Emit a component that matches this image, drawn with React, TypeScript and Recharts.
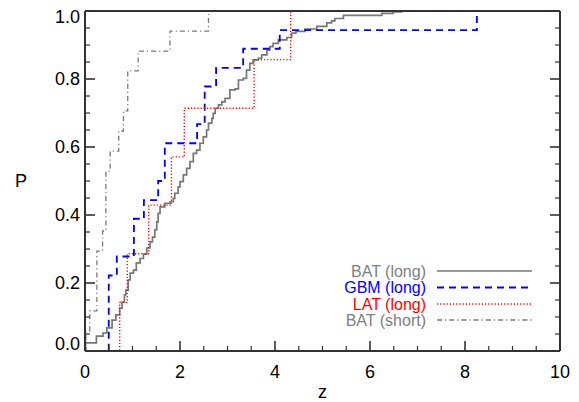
import React from 'react';
import { LineChart, Line, XAxis, YAxis, Legend } from 'recharts';

// Cumulative distributions: redshift z at each step, cumulative fraction P after it.
const batLongZ = [0, 0.01, 0.24, 0.38, 0.46, 0.57, 0.65, 0.73, 0.78, 0.83, 0.86, 0.91, 0.95, 1.02, 1.08, 1.16, 1.23, 1.30, 1.37, 1.42, 1.47, 1.51, 1.54, 1.58, 1.68, 1.79, 1.86, 1.89, 1.96, 2.00, 2.07, 2.14, 2.21, 2.28, 2.35, 2.42, 2.49, 2.56, 2.60, 2.67, 2.70, 2.74, 2.81, 2.88, 2.95, 3.05, 3.16, 3.23, 3.33, 3.40, 3.47, 3.54, 3.65, 3.72, 3.83, 3.89, 3.96, 4.07, 4.25, 4.35, 4.44, 4.63, 4.88, 5.09, 5.19, 5.26, 5.44, 6.25, 6.49, 6.67];
const batLongP = [0, 0.024, 0.044, 0.053, 0.068, 0.091, 0.106, 0.126, 0.144, 0.165, 0.179, 0.209, 0.229, 0.238, 0.259, 0.272, 0.285, 0.303, 0.321, 0.335, 0.356, 0.38, 0.405, 0.424, 0.434, 0.439, 0.449, 0.464, 0.483, 0.498, 0.518, 0.537, 0.557, 0.581, 0.591, 0.611, 0.63, 0.65, 0.67, 0.684, 0.699, 0.714, 0.724, 0.733, 0.743, 0.768, 0.771, 0.797, 0.802, 0.826, 0.846, 0.856, 0.861, 0.871, 0.885, 0.895, 0.905, 0.915, 0.922, 0.935, 0.94, 0.947, 0.955, 0.965, 0.971, 0.978, 0.987, 0.993, 0.997, 1.0];

const gbmZ = [0, 0.50, 0.67, 1.03, 1.24, 1.54, 1.68, 2.36, 2.52, 2.76, 3.33, 4.10, 8.25];
const gbmP = [0, 0.222, 0.278, 0.389, 0.444, 0.5, 0.611, 0.667, 0.778, 0.833, 0.889, 0.944, 1.0];

const latZ = [0, 0.73, 0.89, 1.34, 1.82, 2.09, 3.56, 4.33];
const latP = [0, 0.143, 0.286, 0.429, 0.571, 0.714, 0.857, 1.0];

const batShortZ = [0, 0.02, 0.10, 0.25, 0.37, 0.44, 0.53, 0.71, 0.81, 0.90, 1.12, 1.79, 2.60];
const batShortP = [0, 0.059, 0.118, 0.294, 0.353, 0.529, 0.588, 0.647, 0.706, 0.824, 0.882, 0.941, 1.0];

// tick values: every 0.5 in z (labels every 2), every 0.05 in P (labels every 0.2)
const xTicks = [0, 0.5, 1, 1.5, 2, 2.5, 3, 3.5, 4, 4.5, 5, 5.5, 6, 6.5, 7, 7.5, 8, 8.5, 9, 9.5, 10];
const xLabelled = [0, 2, 4, 6, 8, 10];
const yTicks = [0, 0.05, 0.1, 0.15, 0.2, 0.25, 0.3, 0.35, 0.4, 0.45, 0.5, 0.55, 0.6, 0.65, 0.7, 0.75, 0.8, 0.85, 0.9, 0.95, 1.0];
const yLabelled = [0, 0.2, 0.4, 0.6, 0.8, 1.0];

const seriesNames = ['BAT (long)', 'GBM (long)', 'LAT (long)', 'BAT (short)'];

const toPts = (zs: number[], ps: number[]) => zs.map((z, i) => ({ z, p: ps[i] }));

const GRAY = '#808080';
const BLUE = '#0000ff';
const RED = '#ff0000';
const AXIS = '#333333';
const FONT = '"Liberation Sans", Arial, Helvetica, sans-serif';
const MAJOR = 10;
const MINOR = 5;

const isIn = (list: number[], v: number) => list.some((t) => Math.abs(t - v) < 1e-6);

const styles = [
  { color: '#777777', dash: undefined as string | undefined, width: 1.7, text: GRAY },
  { color: BLUE, dash: '7 5', width: 1.8, text: BLUE },
  { color: RED, dash: '1.2 2', width: 1.4, text: RED },
  { color: '#7a7a7a', dash: '5 3 1.2 3', width: 1.3, text: GRAY },
];

const BottomTick = (props: any) => {
  const { x, y, payload } = props;
  const v = payload.value;
  const major = isIn(xLabelled, v);
  return (
    <g>
      <line x1={x} x2={x} y1={y} y2={y - (major ? MAJOR : MINOR)} stroke={AXIS} strokeWidth={major ? 1.6 : 1.2} />
      {major && (
        <text x={x} y={y + 27} textAnchor="middle" fontSize={18} fontFamily={FONT} fill="#000">
          {String(v)}
        </text>
      )}
    </g>
  );
};

const TopTick = (props: any) => {
  const { x, y, payload } = props;
  const major = isIn(xLabelled, payload.value);
  return <line x1={x} x2={x} y1={y} y2={y + (major ? MAJOR : MINOR)} stroke={AXIS} strokeWidth={major ? 1.6 : 1.2} />;
};

const LeftTick = (props: any) => {
  const { x, y, payload } = props;
  const v = payload.value;
  const major = isIn(yLabelled, v);
  const shift = v >= 0.999 ? 6 : v <= 0.001 ? -7 : 0;
  return (
    <g>
      <line x1={x} x2={x + (major ? MAJOR : MINOR)} y1={y} y2={y} stroke={AXIS} strokeWidth={major ? 1.6 : 1.2} />
      {major && (
        <text x={x - 5} y={y + shift} dy="0.36em" textAnchor="end" fontSize={18} fontFamily={FONT} fill="#000">
          {v.toFixed(1)}
        </text>
      )}
    </g>
  );
};

const RightTick = (props: any) => {
  const { x, y, payload } = props;
  const major = isIn(yLabelled, payload.value);
  return <line x1={x} x2={x - (major ? MAJOR : MINOR)} y1={y} y2={y} stroke={AXIS} strokeWidth={major ? 1.6 : 1.2} />;
};

const LegendBox = () => {
  const rows = [13, 29.5, 46, 62];
  return (
    <svg width={220} height={74} style={{ overflow: 'visible' }}>
      {seriesNames.map((n, i) => (
        <g key={n}>
          <text x={96} y={rows[i]} dy="0.36em" textAnchor="end" fontSize={16} fontFamily={FONT} fill={styles[i].text}>
            {n}
          </text>
          <line
            x1={107}
            x2={202}
            y1={rows[i]}
            y2={rows[i]}
            stroke={styles[i].color}
            strokeWidth={styles[i].width}
            strokeDasharray={styles[i].dash}
          />
        </g>
      ))}
    </svg>
  );
};

export default function App() {
  const series = [toPts(batLongZ, batLongP), toPts(gbmZ, gbmP), toPts(latZ, latP), toPts(batShortZ, batShortP)];
  return (
    <div style={{ position: 'absolute', left: 0, top: 0, width: 579, height: 402, background: '#fff' }}>
      <LineChart width={579} height={402} margin={{ top: 11, right: 19, bottom: 11, left: 25 }} style={{ fontFamily: FONT }}>
        <XAxis
          xAxisId="x"
          type="number"
          dataKey="z"
          domain={[0, 10]}
          ticks={xTicks}
          interval={0}
          allowDataOverflow
          height={40}
          tickSize={0}
          tickMargin={0}
          tickLine={false}
          axisLine={{ stroke: AXIS, strokeWidth: 2 }}
          tick={<BottomTick />}
          label={{ value: 'z', position: 'insideBottom', offset: -7, fill: '#000', fontSize: 18 }}
        />
        <XAxis
          xAxisId="xt"
          orientation="top"
          type="number"
          domain={[0, 10]}
          ticks={xTicks}
          interval={0}
          allowDataOverflow
          mirror
          tickSize={0}
          tickMargin={0}
          tickLine={false}
          axisLine={{ stroke: AXIS, strokeWidth: 2 }}
          tick={<TopTick />}
        />
        <YAxis
          yAxisId="y"
          type="number"
          domain={[0, 1]}
          ticks={yTicks}
          interval={0}
          allowDataOverflow
          width={60}
          tickSize={0}
          tickMargin={0}
          tickLine={false}
          axisLine={{ stroke: AXIS, strokeWidth: 2 }}
          tick={<LeftTick />}
          label={{ value: 'P', position: 'insideLeft', offset: -10, fill: '#000', fontSize: 18 }}
        />
        <YAxis
          yAxisId="yr"
          orientation="right"
          type="number"
          domain={[0, 1]}
          ticks={yTicks}
          interval={0}
          allowDataOverflow
          mirror
          tickSize={0}
          tickMargin={0}
          tickLine={false}
          axisLine={{ stroke: AXIS, strokeWidth: 2 }}
          tick={<RightTick />}
        />
        {series.map((d, i) => (
          <Line
            key={seriesNames[i]}
            name={seriesNames[i]}
            xAxisId="x"
            yAxisId="y"
            data={d}
            dataKey="p"
            type="stepAfter"
            stroke={styles[i].color}
            strokeWidth={styles[i].width}
            strokeDasharray={styles[i].dash}
            dot={false}
            activeDot={false}
            isAnimationActive={false}
          />
        ))}
        <Legend
          layout="vertical"
          align="center"
          verticalAlign="middle"
          wrapperStyle={{ left: 330, top: 258, width: 220, height: 74 }}
          content={() => <LegendBox />}
        />
      </LineChart>
    </div>
  );
}
